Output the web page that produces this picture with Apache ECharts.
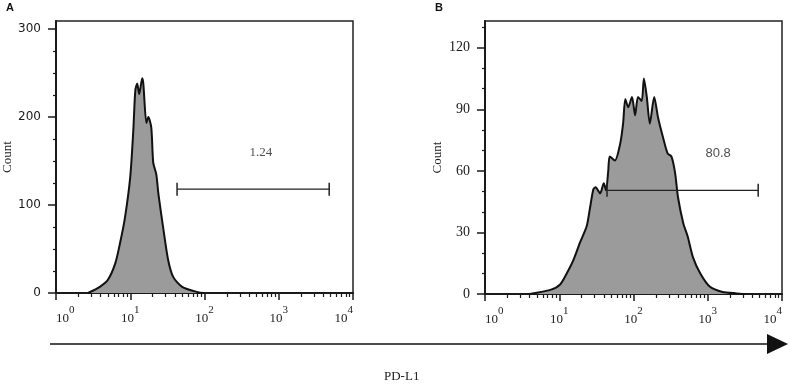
<!DOCTYPE html>
<html>
<head>
<meta charset="utf-8">
<script src="https://cdn.jsdelivr.net/npm/echarts@6/dist/echarts.min.js"></script>
<style>
  html, body { margin: 0; padding: 0; background: #fff; }
  #chart { width: 790px; height: 385px; }
</style>
</head>
<body>
<div id="chart"></div>
<script>
// panel A - PD-L1 fluorescence (log) vs cell count
const fluorA = [2.7, 3.9, 5.0, 6.3, 7.3, 8.5, 10, 11, 11.7, 12.4, 13.2, 14.5, 15, 16.5, 17.5, 19.2, 20.4, 22.4, 24, 28, 32.5, 38, 50, 81, 98];
const countA = [0, 7, 15, 34, 57, 86, 132, 185, 230, 238, 226, 244, 238, 193, 200, 188, 148, 135, 112, 72, 37, 18, 7, 1, 0];

// panel B
const fluorB = [4, 7.6, 10.2, 12.6, 15.5, 19, 23.4, 25.7, 28.8, 30.9, 35.5, 39.8, 42.7, 45.7, 47.9, 56.2, 66, 72.4, 77.6, 85, 95.5, 105, 115, 129, 138, 151, 166, 190, 214, 251, 288, 324, 363, 398, 468, 537, 631, 794, 1072, 1585, 2455, 3162];
const countB = [0, 2, 4.5, 10, 16.5, 25, 33, 41, 51, 52, 49, 54, 50.5, 60, 67, 65, 73, 83, 95, 91, 96, 87, 96, 94, 105, 96, 83, 96, 86, 76, 68.5, 67, 59, 47, 34.5, 28, 18, 10, 3.5, 1, 0.3, 0];

// gates (positive region) and their percentages
const gateA = [42.7, 4780];
const gateLevelA = 118;
const gateB = [44, 4780];
const gateLevelB = 50.5;
const gateTextA = '1.24';
const gateTextB = '80.8';
const gateTextPosA = [575, 159];
const gateTextPosB = [1380, 68.5];

// axis ticks
const yTicksA = [0, 100, 200, 300];
const yMinorA = [25, 50, 75, 125, 150, 175, 225, 250, 275];
const yTicksB = [0, 30, 60, 90, 120];
const yMinorB = [10, 20, 40, 50, 70, 80, 100, 110, 130];
const xMinor = [2, 3, 4, 5, 6, 7, 8, 9, 20, 30, 40, 50, 60, 70, 80, 90,
  200, 300, 400, 500, 600, 700, 800, 900, 2000, 3000, 4000, 5000, 6000, 7000, 8000, 9000];

const ink = '#1a1a1a';

const pairs = (xs, ys) => xs.map((x, i) => [x, ys[i]]);

function majorX(grid) {
  return {
    type: 'log', gridIndex: grid, min: 1, max: 10000, position: 'bottom',
    axisLine: { lineStyle: { color: ink, width: 2 } },
    axisTick: { length: 7, lineStyle: { color: ink, width: 1.5 } },
    splitLine: { show: false },
    axisLabel: {
      margin: 11,
      alignMinLabel: 'left',
      alignMaxLabel: 'right',
      formatter: v => '{b|10}{s|' + Math.round(Math.log10(v)) + '}',
      rich: {
        b: { fontFamily: 'Liberation Serif', fontSize: 13, color: '#222', padding: [8, 0, 0, 0] },
        s: { fontFamily: 'Liberation Serif', fontSize: 11, color: '#222', padding: [0, 0, 8, 0] }
      }
    }
  };
}
function minorX(grid) {
  return {
    type: 'log', gridIndex: grid, min: 1, max: 10000, position: 'bottom',
    axisLine: { show: false },
    axisLabel: { show: false },
    splitLine: { show: false },
    axisTick: { show: true, length: 4, customValues: xMinor, lineStyle: { color: ink, width: 1.2 } }
  };
}
function majorY(grid, max, ticks, font, size) {
  return {
    type: 'value', gridIndex: grid, min: 0, max: max, position: 'left',
    axisLine: { show: true, lineStyle: { color: ink, width: 2 } },
    axisTick: { show: true, length: 8, customValues: ticks, lineStyle: { color: ink, width: 1.5 } },
    axisLabel: { customValues: ticks, margin: 15, fontFamily: font, fontSize: size, color: '#1a1a1a' },
    splitLine: { show: false },
    name: 'Count', nameLocation: 'middle', nameGap: 41,
    nameTextStyle: { fontFamily: 'Liberation Serif', fontSize: 13, color: '#222' }
  };
}
function minorY(grid, max, ticks) {
  return {
    type: 'value', gridIndex: grid, min: 0, max: max, position: 'left',
    axisLine: { show: false },
    axisLabel: { show: false },
    splitLine: { show: false },
    axisTick: { show: true, length: 3, customValues: ticks, lineStyle: { color: ink, width: 1.2 } }
  };
}
function histSeries(ax, data) {
  return {
    type: 'line', xAxisIndex: ax, yAxisIndex: ax, data: data,
    smooth: 0.25, showSymbol: false, symbol: 'none',
    lineStyle: { color: '#111', width: 2 },
    areaStyle: { color: '#9b9b9b', opacity: 1 },
    z: 2, silent: true
  };
}
function gateSeries(ax, gate, level) {
  return {
    type: 'line', xAxisIndex: ax, yAxisIndex: ax,
    data: [[gate[0], level], [gate[1], level]],
    symbol: 'rect', symbolSize: [1.5, 13], showSymbol: true,
    itemStyle: { color: '#222' },
    lineStyle: { color: '#222', width: 1.3 },
    z: 5, silent: true
  };
}
function textSeries(ax, pos, txt, font) {
  return {
    type: 'scatter', xAxisIndex: ax, yAxisIndex: ax,
    data: [pos], symbolSize: 0,
    label: { show: true, position: 'inside', formatter: txt, fontFamily: font, fontSize: 13, color: '#222' },
    z: 6, silent: true
  };
}

const chart = echarts.init(document.getElementById('chart'));
chart.setOption({
  animation: false,
  backgroundColor: '#fff',
  grid: [
    { left: 56, top: 21, width: 297, height: 272, show: true, borderColor: '#222', borderWidth: 1.5, outerBoundsMode: 'none', containLabel: false },
    { left: 485, top: 21, width: 297, height: 273, show: true, borderColor: '#222', borderWidth: 1.5, outerBoundsMode: 'none', containLabel: false }
  ],
  xAxis: [majorX(0), minorX(0), majorX(1), minorX(1)],
  yAxis: [
    majorY(0, 309, yTicksA, 'DejaVu Sans', 12),
    minorY(0, 309, yMinorA),
    majorY(1, 133, yTicksB, 'Liberation Serif', 14),
    minorY(1, 133, yMinorB)
  ],
  series: [
    histSeries(0, pairs(fluorA, countA)),
    gateSeries(0, gateA, gateLevelA),
    textSeries(0, gateTextPosA, gateTextA, 'Liberation Serif'),
    histSeries(2, pairs(fluorB, countB)),
    gateSeries(2, gateB, gateLevelB),
    textSeries(2, gateTextPosB, gateTextB, 'Liberation Sans')
  ],
  graphic: [
    { type: 'text', left: 6, top: 2, style: { text: 'A', font: 'bold 11px "Liberation Sans"', fill: '#111' } },
    { type: 'text', left: 435, top: 2, style: { text: 'B', font: 'bold 11px "Liberation Sans"', fill: '#111' } },
    { type: 'line', shape: { x1: 50, y1: 344, x2: 770, y2: 344 }, style: { stroke: '#111', lineWidth: 1.5 } },
    { type: 'polygon', shape: { points: [[767, 334], [788, 344], [767, 354]] }, style: { fill: '#111' } },
    { type: 'text', left: 384, top: 370, style: { text: 'PD-L1', font: '13px "Liberation Serif"', fill: '#222' } }
  ]
});
</script>
</body>
</html>
